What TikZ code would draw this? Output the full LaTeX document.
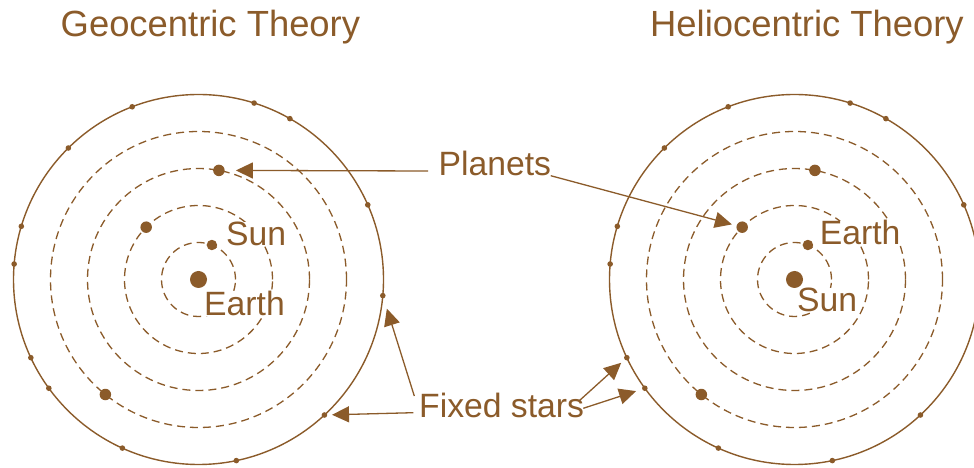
\documentclass[tikz,border=0pt]{standalone}
\usepackage{fontspec}
\setmainfont{Liberation Sans}
\usetikzlibrary{arrows.meta}
\definecolor{brn}{RGB}{139,91,42}
\tikzset{
  lbl/.style={text=brn, font=\fontsize{33.7}{38}\selectfont, inner sep=0pt, anchor=base west, fill=white},
  ttl/.style={text=brn, font=\fontsize{36.4}{40}\selectfont, inner sep=0pt, anchor=base west},
  orbit/.style={draw=brn, line width=1.3pt, dash pattern=on 8pt off 5pt},
  sphere/.style={draw=brn, line width=1.4pt},
  stardot/.style={circle, fill=brn, inner sep=0pt, minimum size=5.6pt},
  planet/.style={circle, fill=brn, inner sep=0pt, minimum size=11.5pt},
  inplanet/.style={circle, fill=brn, inner sep=0pt, minimum size=10.5pt},
  bigdot/.style={circle, fill=brn, inner sep=0pt, minimum size=17pt},
  arr/.style={draw=brn, line width=1.3pt, -{Triangle[length=17pt,width=16pt]}}
}
\begin{document}
\begin{tikzpicture}[x=1pt,y=1pt]
\path[use as bounding box] (0,0) rectangle (974,468);
\clip (0,0) rectangle (974,468);

% ---------- Geocentric system ----------
\begin{scope}[shift={(198.5,188.5)}]
  \foreach \r in {37,74,111,148} \draw[orbit] (0,0) circle (\r);
  \draw[sphere] (0,0) circle (185);
  \foreach \a/\n in {111/a,72.5/b,60.4/c,134.7/d,23.8/e,163.3/f,175.2/g,-5/h,205/i,216/j,-47.1/k,245.7/l,281.8/m}
    \node[stardot] (Ls\n) at (\a:185) {};
  \node[bigdot] (Lcenter) at (0,0) {};
  \node[inplanet] (Lp1) at (68.8:37) {};
  \node[planet] (Lp2) at (135:74) {};
  \node[planet] (Lp3) at (79.4:111) {};
  \node[planet] (Lp4) at (231:148) {};
\end{scope}

% ---------- Heliocentric system ----------
\begin{scope}[shift={(794.5,188.5)}]
  \foreach \r in {37,74,111,148} \draw[orbit] (0,0) circle (\r);
  \draw[sphere] (0,0) circle (185);
  \foreach \a/\n in {111/a,72.5/b,60.4/c,134.7/d,23.8/e,163.3/f,175.2/g,-5/h,205/i,216/j,-47.1/k,245.7/l,281.8/m}
    \node[stardot] (Rs\n) at (\a:185) {};
  \node[bigdot] (Rcenter) at (0,0) {};
  \node[inplanet] (Rp1) at (68.8:37) {};
  \node[planet] (Rp2) at (135:74) {};
  \node[planet] (Rp3) at (79.4:111) {};
  \node[planet] (Rp4) at (231:148) {};
\end{scope}

% ---------- Titles ----------
\node[ttl] (tgeo) at (60.5,431.3) {Geocentric Theory};
\node[ttl] (thel) at (650,431.3) {Heliocentric Theory};

% ---------- Labels ----------
\node[lbl] (lsun) at (226,222) {Sun};
\node[lbl] (learth) at (204,152) {Earth};
\node[lbl] (rearth) at (819.7,223) {Earth};
\node[lbl] (rsun) at (797,156.3) {Sun};
\node[lbl] (planets) at (438.5,292.3) {Planets};
\node[lbl] (fixed) at (419,50) {Fixed stars};

% ---------- Arrows ----------
\coordinate (p1s) at (428,297);
\coordinate (p2s) at (550.7,292.3);
\coordinate (f1s) at (413.3,55.3);
\coordinate (f2s) at (414.3,72);
\coordinate (f3s) at (579.3,67.3);
\coordinate (f4s) at (583.3,59.7);
\draw[arr, shorten >=11pt] (p1s) -- (Lp3);
\draw[arr, shorten >=4.7pt] (p2s) -- (Rp2);
\draw[arr, shorten >=4.6pt] (f1s) -- (Lsk);
\draw[arr, shorten >=10.6pt] (f2s) -- (Lsh);
\draw[arr, shorten >=4.6pt] (f3s) -- (Rsi);
\draw[arr, shorten >=6.2pt] (f4s) -- (Rsj);
\end{tikzpicture}
\end{document}
